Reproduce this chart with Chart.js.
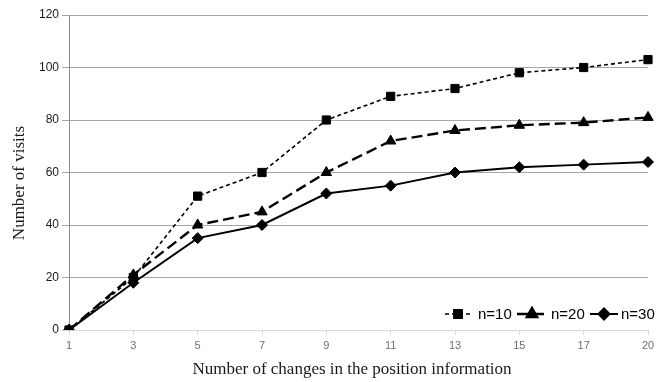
<!DOCTYPE html>
<html>
<head>
<meta charset="utf-8">
<script src="https://cdn.jsdelivr.net/npm/chart.js@4.4.1/dist/chart.umd.min.js"></script>
<style>
  html, body { margin: 0; padding: 0; background: #fff; }
  #wrap { width: 660px; height: 382px; position: relative; }
</style>
</head>
<body>
<div id="wrap"><canvas id="c" width="660" height="382"></canvas></div>
<script>
// Number of position-information changes (category axis)
const changes = ['1', '3', '5', '7', '9', '11', '13', '15', '17', '20'];
// Visits for each n
const visitsN10 = [0, 20, 51, 60, 80, 89, 92, 98, 100, 103];
const visitsN20 = [0, 21, 40, 45, 60, 72, 76, 78, 79, 81];
const visitsN30 = [0, 18, 35, 40, 52, 55, 60, 62, 63, 64];
const seriesNames = ['n=10', 'n=20', 'n=30'];
const yTitle = 'Number of visits';
const xTitle = 'Number of changes in the position information';

const sansFont = '"Liberation Sans", Arial, sans-serif';
const serifFont = '"Liberation Serif", "Times New Roman", serif';

// Legend drawn inside the plot: dashed segment + marker + label per series
const lineLegend = {
  id: 'lineLegend',
  afterDraw(chart) {
    const ctx = chart.ctx;
    const area = chart.chartArea;
    const y = area.bottom - 16;
    const items = [
      { x0: 445, x1: 471, mx: 458, tx: 478 },
      { x0: 517, x1: 549, mx: 532, tx: 551 },
      { x0: 590, x1: 618, mx: 604, tx: 621 }
    ];
    ctx.save();
    chart.data.datasets.forEach((ds, i) => {
      const it = items[i];
      ctx.strokeStyle = ds.borderColor;
      ctx.lineWidth = ds.borderWidth;
      ctx.setLineDash(ds.borderDash || []);
      ctx.beginPath();
      ctx.moveTo(it.x0, y);
      ctx.lineTo(it.x1, y);
      ctx.stroke();
      ctx.setLineDash([]);
      Chart.helpers.drawPoint(ctx, {
        pointStyle: ds.pointStyle,
        radius: ds.pointRadius,
        borderWidth: 1,
        rotation: 0
      }, it.mx, y);
      ctx.fillStyle = '#000';
      ctx.font = '15px ' + sansFont;
      ctx.textBaseline = 'middle';
      ctx.textAlign = 'left';
      ctx.fillText(ds.label, it.tx, y + 1);
    });
    ctx.restore();
  }
};

// Axis titles in a serif face
const axisTitles = {
  id: 'axisTitles',
  afterDraw(chart) {
    const ctx = chart.ctx;
    ctx.save();
    ctx.fillStyle = '#1a1a1a';
    ctx.font = '17px ' + serifFont;
    ctx.textAlign = 'center';
    ctx.textBaseline = 'middle';
    ctx.fillText(xTitle, 352, 370);
    ctx.translate(20, 183);
    ctx.rotate(-Math.PI / 2);
    ctx.fillText(yTitle, 0, 0);
    ctx.restore();
  }
};

const ctx = document.getElementById('c').getContext('2d');
ctx.fillStyle = '#fff';

new Chart(ctx, {
  type: 'line',
  data: {
    labels: changes,
    datasets: [
      {
        label: seriesNames[0], data: visitsN10,
        borderColor: '#000', backgroundColor: '#000',
        borderWidth: 1.6, borderDash: [4, 3],
        pointStyle: 'rect', pointRadius: 5.8, pointBorderWidth: 1,
        tension: 0
      },
      {
        label: seriesNames[1], data: visitsN20,
        borderColor: '#000', backgroundColor: '#000',
        borderWidth: 2.4, borderDash: [11, 5],
        pointStyle: 'triangle', pointRadius: 6, pointBorderWidth: 1,
        tension: 0
      },
      {
        label: seriesNames[2], data: visitsN30,
        borderColor: '#000', backgroundColor: '#000',
        borderWidth: 2, borderDash: [],
        pointStyle: 'rectRot', pointRadius: 5.5, pointBorderWidth: 1,
        tension: 0
      }
    ]
  },
  options: {
    responsive: false,
    animation: false,
    devicePixelRatio: 1,
    layout: { padding: { left: 0, right: 12, top: 15, bottom: 0 } },
    plugins: {
      legend: { display: false },
      tooltip: { enabled: false },
      title: { display: false }
    },
    scales: {
      x: {
        type: 'category',
        offset: false,
        afterFit(s) { s.height = 52; },
        grid: {
          drawOnChartArea: false,
          drawTicks: true,
          tickLength: 5,
          color: '#d9d9d9'
        },
        border: { color: '#d9d9d9', width: 1 },
        ticks: {
          color: '#6d6d7a',
          font: { family: sansFont, size: 11 },
          padding: 4,
          maxRotation: 0,
          autoSkip: false
        }
      },
      y: {
        min: 0,
        max: 120,
        afterFit(s) { s.width = 69; },
        grid: {
          color: (c) => (c.tick && c.tick.value === 0 ? '#d9d9d9' : '#a6a6a6'),
          tickLength: 7,
          lineWidth: 1
        },
        border: { color: '#8c8c8c', width: 1 },
        ticks: {
          stepSize: 20,
          color: '#1a1a1a',
          font: { family: sansFont, size: 12 },
          padding: 3
        }
      }
    }
  },
  plugins: [lineLegend, axisTitles]
});
</script>
</body>
</html>
